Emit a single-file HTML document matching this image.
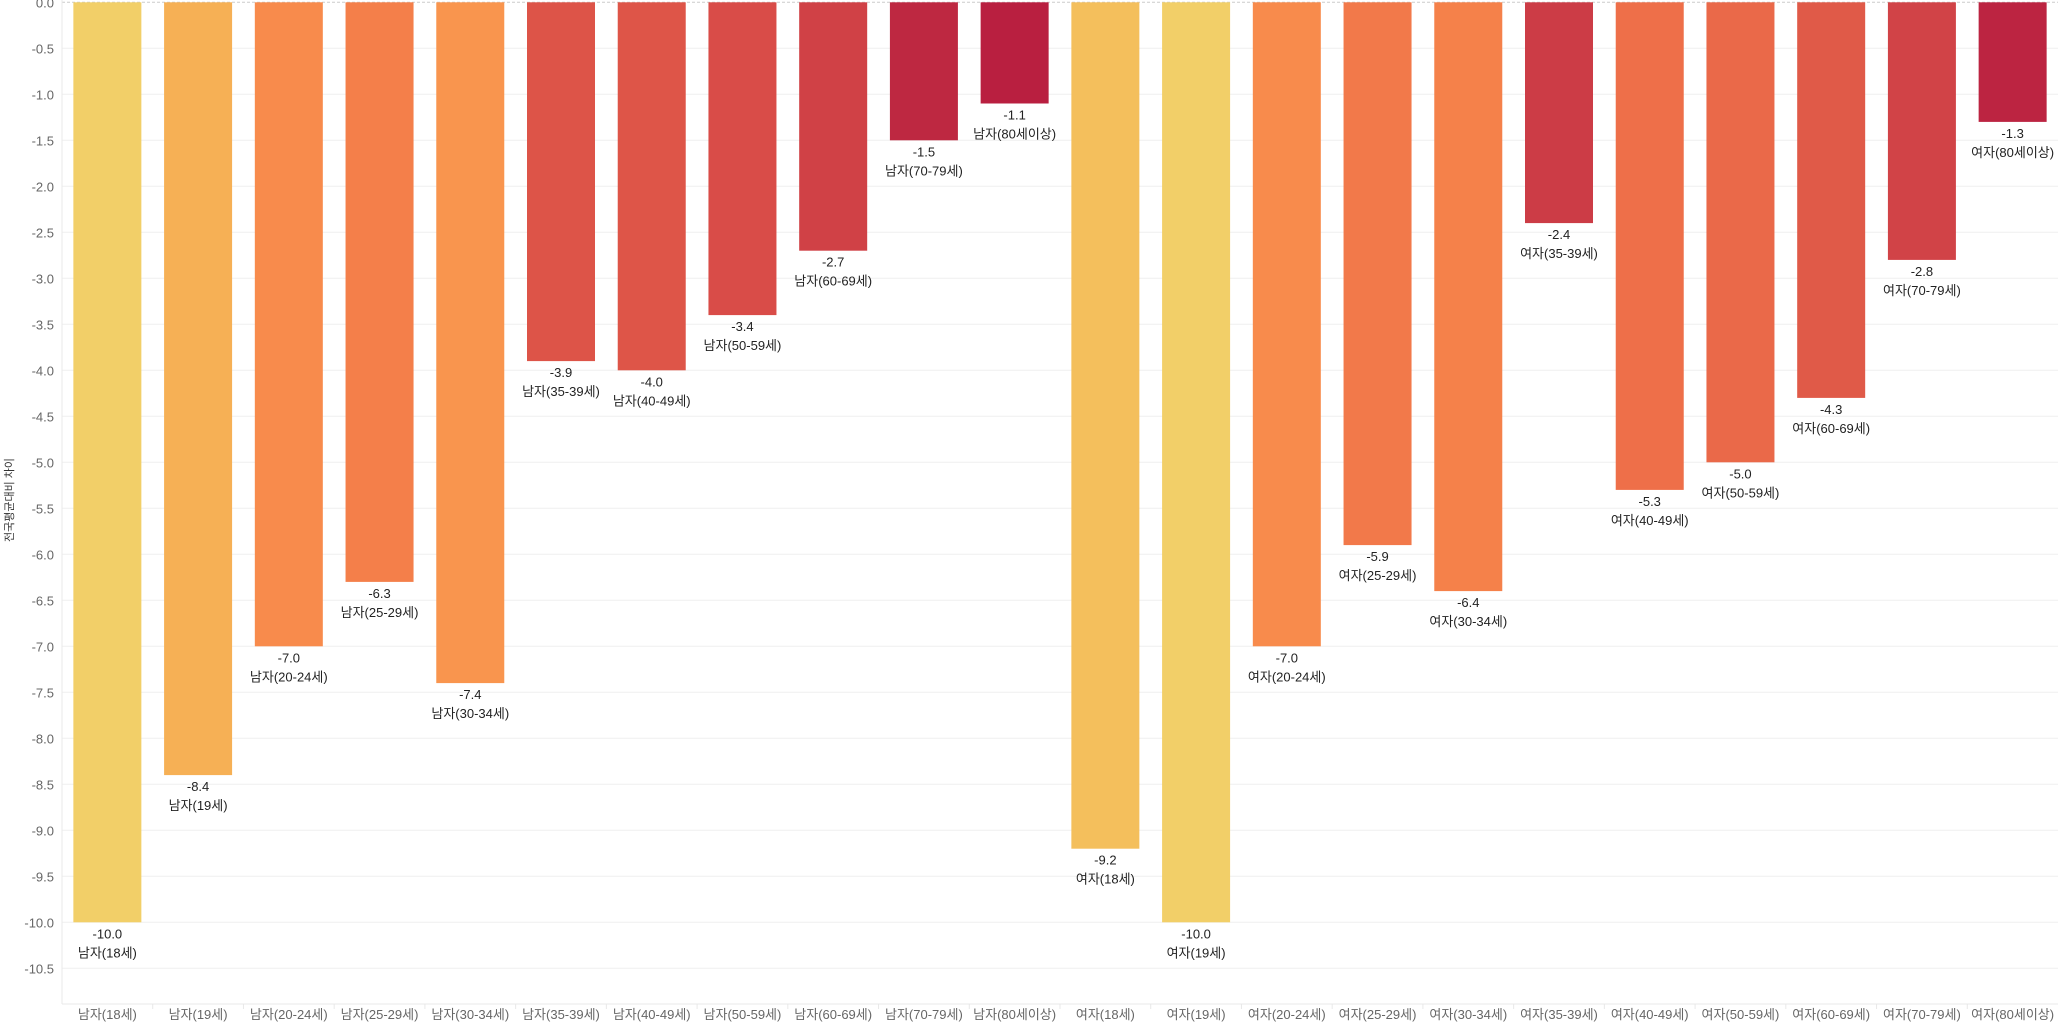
<!DOCTYPE html>
<html><head><meta charset="utf-8">
<style>
html,body{margin:0;padding:0;background:#fff;}
svg{display:block;font-family:"Liberation Sans","Noto Sans CJK KR",sans-serif;}
</style></head>
<body>
<svg id="chart" width="2060" height="1027"></svg>
<script>
const categories=["남자(18세)","남자(19세)","남자(20-24세)","남자(25-29세)","남자(30-34세)","남자(35-39세)","남자(40-49세)","남자(50-59세)","남자(60-69세)","남자(70-79세)","남자(80세이상)","여자(18세)","여자(19세)","여자(20-24세)","여자(25-29세)","여자(30-34세)","여자(35-39세)","여자(40-49세)","여자(50-59세)","여자(60-69세)","여자(70-79세)","여자(80세이상)"];
const values=[-10.0,-8.4,-7.0,-6.3,-7.4,-3.9,-4.0,-3.4,-2.7,-1.5,-1.1,-9.2,-10.0,-7.0,-5.9,-6.4,-2.4,-5.3,-5.0,-4.3,-2.8,-1.3];
const yTicks=[0,-0.5,-1,-1.5,-2,-2.5,-3,-3.5,-4,-4.5,-5,-5.5,-6,-6.5,-7,-7.5,-8,-8.5,-9,-9.5,-10,-10.5];

const NS="http://www.w3.org/2000/svg";
const svgEl=document.getElementById('chart');
const plotLeft=62,plotRight=2058,plotTop=2.3,plotBottom=1004,pxPerUnit=92;
const step=(plotRight-plotLeft)/categories.length,barW=68;
function yScale(v){return plotTop-v*pxPerUnit;}
function xc(i){return plotLeft+step*(i+0.5);}
function mk(t,a){const e=document.createElementNS(NS,t);for(const k in a)e.setAttribute(k,a[k]);svgEl.appendChild(e);return e;}
const stops=[[-10,[242,207,104]],[-9.2,[244,191,92]],[-8.4,[246,176,85]],[-7.2,[249,143,77]],[-6.3,[244,127,74]],[-5.3,[238,111,73]],[-4.3,[224,90,72]],[-3.4,[217,76,72]],[-2.5,[205,62,70]],[-1.5,[190,40,65]],[-1.1,[185,31,64]]];
function color(v){
  if(v<=stops[0][0])return 'rgb('+stops[0][1].join(',')+')';
  for(let i=1;i<stops.length;i++){if(v<=stops[i][0]){const a=stops[i-1],b=stops[i],t=(v-a[0])/(b[0]-a[0]);return 'rgb('+a[1].map((c,j)=>Math.round(c+(b[1][j]-c)*t)).join(',')+')';}}
  return 'rgb('+stops[stops.length-1][1].join(',')+')';
}
yTicks.forEach(t=>{
  const attrs={x1:plotLeft,x2:plotRight,y1:yScale(t),y2:yScale(t),stroke:t===0?'#ccc':'#efefef','stroke-width':1};
  if(t===0)attrs['stroke-dasharray']='3,2';
  const g=mk('line',attrs);
  
  
  const l=mk('text',{x:54,y:yScale(t)+5,'text-anchor':'end','font-size':13,fill:'#666'});
  l.textContent=t.toFixed(1);
  
  
});
const ya=mk('line',{x1:plotLeft,x2:plotLeft,y1:0,y2:plotBottom,stroke:'#e8e8e8'});


const xa=mk('line',{x1:plotLeft,x2:plotRight,y1:plotBottom,y2:plotBottom,stroke:'#e8e8e8'});


const yt=mk('text',{transform:'translate(13,500) rotate(-90)','text-anchor':'middle','font-size':11,fill:'#333'});
yt.textContent='전국평균대비 차이';


categories.forEach((c,i)=>{
  const v=values[i];
  const r=mk('rect',{x:xc(i)-barW/2,y:yScale(0),width:barW,height:yScale(v)-yScale(0),fill:color(v)});
  
  
  const vl=mk('text',{x:xc(i),y:yScale(v)+16,'text-anchor':'middle','font-size':13,fill:'#222'});
  vl.textContent=v.toFixed(1);
  
  
  const cl=mk('text',{x:xc(i),y:yScale(v)+35,'text-anchor':'middle','font-size':13,fill:'#222'});
  cl.textContent=c;
  
  
  const xl=mk('text',{x:xc(i),y:1019,'text-anchor':'middle','font-size':13,fill:'#666'});
  xl.textContent=c;
  
  
  if(i>0){
    const tk=mk('line',{x1:plotLeft+step*i,x2:plotLeft+step*i,y1:plotBottom,y2:plotBottom+5,stroke:'#e8e8e8'});
    
    
  }
});
</script>
</body></html>
